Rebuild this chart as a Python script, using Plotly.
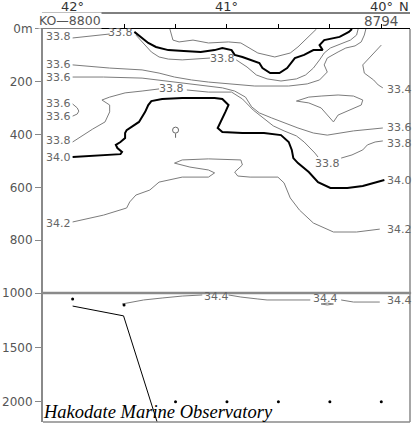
import plotly.graph_objects as go

# ---------------- data ----------------
station_lat = [42.0, 41.6667, 41.3333, 41.0, 40.6667, 40.3333, 40.0]
station_first = "KO—8800"
station_last = "8794"
lat_label_vals = [42, 41, 40]
lat_label_text = ["42°", "41°", "40°"]
upper_depth_ticks = [0, 200, 400, 600, 800]
upper_depth_text = ["0m", "200", "400", "600", "800"]
lower_depth_ticks = [1000, 1500, 2000]
lower_depth_text = ["1000", "1500", "2000"]

# isohalines (latitude, depth m); None = gap for a label
s338_a_lat = [42.00, 41.88, 41.76]
s338_a_dep = [34, 27, 19]

s340_top_lat = [41.60, 41.55, 41.51, 41.46, 41.38, 41.28, 41.17, 41.08, 41.03, 40.97, 40.95, 40.90, 40.85,
                40.79, 40.77, 40.72, 40.66, 40.61, 40.56, 40.50, 40.44, 40.38, 40.40, 40.37, 40.27, 40.21, 40.19]
s340_top_dep = [11, 34, 53, 68, 80, 83, 87, 80, 72, 80, 98, 106, 117,
                129, 148, 167, 167, 148, 110, 98, 80, 80, 61, 42, 30, 11, 0]

s342_top_lat = [41.37, 41.35, 41.31, 41.22, 41.12, 40.99, 40.91, 40.80, 40.69, 40.59, 40.54, 40.48, 40.44, 40.42]
s342_top_dep = [0, 42, 49, 42, 53, 49, 53, 91, 106, 91, 68, 34, 15, 0]

s338_b_lat = [41.59, 41.54, 41.49, 41.44, 41.38, 41.29, 41.19, 41.11, None,
              40.94, 40.87, 40.81, 40.74, 40.65, 40.55, 40.49, 40.44, 40.40, 40.37, 40.33, 40.26, 40.20, 40.16, 40.15]
s338_b_dep = [23, 57, 87, 106, 114, 117, 114, 110, None,
              117, 144, 174, 189, 197, 189, 174, 148, 117, 91, 72, 57, 42, 23, 0]

s336_a_lat = [42.00, 41.76, 41.55, 41.44, 41.34, 41.23, 41.12, 40.97, 40.82, 40.60, 40.48, 40.40,
              40.35, 40.37, 40.35, 40.28, 40.23, 40.17, 40.13, 40.11, 40.10]
s336_a_dep = [136, 148, 155, 167, 182, 193, 201, 208, 216, 216, 208, 193,
              163, 136, 110, 87, 72, 64, 49, 23, 0]

s334_lat = [40.00, 40.03, 40.07, 40.12, 40.11, 40.05, 40.02, 39.99]
s334_dep = [61, 80, 106, 136, 167, 193, 212, 223]

s336_b_lat = [42.00, 41.80, 41.55, 41.34, 41.12, 41.03, 40.95, 40.88, 40.84, 40.79, 40.71, 40.63,
              40.54, 40.44, 40.35, 40.18, 39.99]
s336_b_dep = [182, 182, 186, 201, 216, 223, 235, 258, 295, 318, 337, 356,
              375, 394, 402, 386, 375]

s336_loop_lat = [42.00, 41.97, 41.96, 41.97, 42.00]
s336_loop_dep = [284, 299, 311, 322, 330]

s338_c_lat = [42.00, 41.94, 41.87, 41.79, 41.76, 41.76, 41.81, 41.76, 41.66, 41.55, 41.44, None,
              41.26, 41.12, 40.97, 40.90, 40.83, 40.76, 40.70, 40.63, 40.55, 40.50, 40.46, 40.43, 40.41, None,
              40.26, 40.19, 40.12, 40.09, 40.04, 39.99]
s338_c_dep = [428, 405, 379, 352, 314, 288, 269, 258, 242, 235, 227, None,
              231, 239, 239, 265, 307, 341, 367, 386, 405, 428, 451, 470, 485, None,
              489, 477, 458, 439, 428, 424]

s334_lens_lat = [40.55, 40.47, 40.39, 40.28, 40.18, 40.12, 40.13, 40.20, 40.28, 40.31, 40.35, 40.39, 40.47, 40.55]
s334_lens_dep = [273, 258, 254, 250, 254, 269, 288, 307, 326, 352, 326, 299, 280, 273]

s340_deep_lat = [42.00, 41.76, 41.69, 41.68, 41.71, 41.72, 41.69, 41.66, 41.66, 41.65, 41.62, 41.57, 41.53,
                 41.51, 41.49, 41.42, 41.29, 41.17, 41.08, 41.03, 40.99, 41.01, 41.04, 41.06, 41.03, 40.90,
                 40.76, 40.65, 40.60, 40.58, 40.57, 40.54, 40.47, 40.41, 40.33, 40.22, 40.12, 40.01, 39.98]
s340_deep_dep = [485, 477, 474, 466, 451, 439, 428, 413, 394, 383, 371, 352, 314,
                 288, 273, 265, 261, 261, 261, 265, 288, 314, 352, 375, 390, 394,
                 394, 402, 428, 458, 489, 508, 542, 580, 602, 602, 595, 576, 572]

s342_lat = [42.00, 41.80, 41.65, 41.63, 41.59, 41.50, 41.44, 41.29, 41.12, 41.08, 41.12, 41.24, 41.34,
            41.29, 41.12, 40.91, 40.90, 40.95, 40.93, 40.85, 40.67, 40.63, 40.59, 40.53, 40.44, 40.31,
            40.16, 40.01]
s342_dep = [731, 705, 678, 655, 629, 610, 580, 561, 561, 545, 534, 523, 508,
            496, 492, 496, 515, 542, 557, 561, 561, 583, 640, 686, 735, 769,
            769, 758]

s344_lat = [41.68, 41.54, 41.42, 41.29, 41.16, None, 40.99, 40.91, 40.80, 40.74, 40.46, None,
            40.26, 40.18, 40.01]
s344_dep = [1101, 1064, 1046, 1028, 1018, None, 1018, 1037, 1055, 1064, 1064, None,
            1064, 1083, 1083]

s344_ring_lat = [40.39, 40.35, 40.31, 40.35, 40.39]
s344_ring_dep = [1101, 1093, 1101, 1110, 1101]

bottom_lat = [42.00, 41.67, 41.40]
bottom_dep = [1120, 1210, 2420]

deep_obs_lat = [42.0, 41.6667, 41.3333, 41.0, 40.6667, 40.3333, 40.0]
deep_obs_dep = [1055, 1110, 2000, 2000, 2000, 2000, 2000]

mark_lat = [41.333]
mark_dep = [383]
mark_stem_lat = [41.333, 41.333]
mark_stem_dep = [396, 412]

# contour labels
lab_text = ["33.8", "33.6", "33.6", "33.6", "33.6", "33.8", "34.0", "34.2",
            "33.4", "33.6", "33.8", "34.0", "34.2",
            "33.8", "33.8", "33.8", "33.8"]
lab_lat = [42.18] * 8 + [39.97] * 5 + [41.69, 41.03, 41.36, 40.35]
lab_dep = [30, 133, 182, 284, 330, 424, 485, 735,
           231, 375, 432, 572, 761,
           15, 110, 227, 508]
lab_anchor = ["left"] * 13 + ["center"] * 4

low_lab_text = ["34.4", "34.4", "34.4"]
low_lab_lat = [41.07, 40.36, 39.97]
low_lab_dep = [1028, 1055, 1073]
low_lab_anchor = ["center", "center", "left"]

# ---------------- figure ----------------
THIN = "#7c7c7c"
fig = go.Figure()

def add_line(lat, dep, thick=False, axis="y", color=None):
    fig.add_trace(go.Scatter(
        x=lat, y=dep, mode="lines", xaxis="x", yaxis=axis,
        line=dict(color=color or ("black" if thick else THIN), width=2 if thick else 1),
        hoverinfo="skip", showlegend=False, connectgaps=False))

add_line(s338_a_lat, s338_a_dep)
add_line(s342_top_lat, s342_top_dep)
add_line(s340_top_lat, s340_top_dep, thick=True)
add_line(s338_b_lat, s338_b_dep)
add_line(s336_a_lat, s336_a_dep)
add_line(s334_lat, s334_dep)
add_line(s336_b_lat, s336_b_dep)
add_line(s336_loop_lat, s336_loop_dep)
add_line(s338_c_lat, s338_c_dep)
add_line(s334_lens_lat, s334_lens_dep)
add_line(s340_deep_lat, s340_deep_dep, thick=True)
add_line(s342_lat, s342_dep)
add_line(mark_stem_lat, mark_stem_dep, color="#666")
add_line(s344_lat, s344_dep, axis="y2")
add_line(s344_ring_lat, s344_ring_dep, axis="y2")
add_line(bottom_lat, bottom_dep, axis="y2", color="black")

fig.add_trace(go.Scatter(x=deep_obs_lat, y=deep_obs_dep, mode="markers", xaxis="x", yaxis="y2",
                         marker=dict(color="black", size=3), hoverinfo="skip", showlegend=False))
fig.add_trace(go.Scatter(x=mark_lat, y=mark_dep, mode="markers", xaxis="x", yaxis="y",
                         marker=dict(symbol="circle-open", color="#666", size=6, line=dict(width=1)),
                         hoverinfo="skip", showlegend=False))

LAB_FONT = dict(family="DejaVu Sans", size=11, color="#666")
ann = []
for t, la, de, an in zip(lab_text, lab_lat, lab_dep, lab_anchor):
    ann.append(dict(x=la, y=de, xref="x", yref="y", text=t, showarrow=False,
                    xanchor=an, yanchor="middle", font=LAB_FONT, borderpad=0))
for t, la, de, an in zip(low_lab_text, low_lab_lat, low_lab_dep, low_lab_anchor):
    ann.append(dict(x=la, y=de, xref="x", yref="y2", text=t, showarrow=False,
                    xanchor=an, yanchor="middle", font=LAB_FONT, borderpad=0))

TOPFONT = dict(family="DejaVu Sans", size=13, color="#333")
for v, t in zip(lat_label_vals, lat_label_text):
    ann.append(dict(x=v, y=1.0147, xref="x", yref="paper", text=t, showarrow=False,
                    xanchor="center", yanchor="middle", font=TOPFONT, borderpad=0))
ann.append(dict(x=39.85, y=1.0147, xref="x", yref="paper", text="N", showarrow=False,
                xanchor="center", yanchor="middle", font=TOPFONT, borderpad=0))
ann.append(dict(x=0.073, y=0.981, xref="paper", yref="paper", text=station_first, showarrow=False,
                xanchor="center", yanchor="middle", font=dict(family="DejaVu Sans", size=12.5, color="#555"),
                bgcolor="white", borderpad=0))
ann.append(dict(x=station_lat[-1], y=0.981, xref="x", yref="paper", text=station_last, showarrow=False,
                xanchor="center", yanchor="middle", font=dict(family="DejaVu Sans", size=13.5, color="#555"),
                borderpad=0))
ann.append(dict(x=-0.006, y=0.025, xref="paper", yref="paper", text="<i>Hakodate Marine Observatory</i>",
                showarrow=False, xanchor="left", yanchor="middle",
                font=dict(family="Liberation Serif", size=18.5, color="black")))

SPLIT = 0.3154
TOP = 0.9609
shapes = [
    dict(type="line", xref="paper", yref="paper", x0=-0.003, x1=1.0, y0=1.0, y1=1.0,
         line=dict(color="black", width=1)),
    dict(type="line", xref="paper", yref="paper", x0=0, x1=1.003, y0=SPLIT, y1=SPLIT,
         line=dict(color="#8a8a8a", width=2.5)),
    dict(type="line", xref="paper", yref="paper", x0=1.0, x1=1.0, y0=0, y1=TOP,
         line=dict(color="#8a8a8a", width=1.5)),
    dict(type="line", xref="paper", yref="paper", x0=0, x1=1.0, y0=0.0, y1=0.0,
         line=dict(color="#8a8a8a", width=1.5)),
]

TICKFONT = dict(family="DejaVu Sans", size=12, color="#555")
fig.update_layout(
    width=412, height=424, margin=dict(l=39, r=2, t=13, b=2),
    paper_bgcolor="white", plot_bgcolor="white",
    showlegend=False, annotations=ann, shapes=shapes,
    xaxis=dict(range=[42.192, 39.814], anchor="y", side="top", showline=True, linecolor="black",
               linewidth=1, ticks="outside", tickvals=station_lat, ticklen=4, tickcolor="black",
               showticklabels=False, showgrid=False, zeroline=False),
    yaxis=dict(domain=[SPLIT, TOP], range=[1000, 0], anchor="x", tickvals=upper_depth_ticks,
               ticktext=upper_depth_text, ticks="outside", ticklen=6, tickcolor="#888",
               showline=True, linecolor="#8a8a8a", linewidth=2, showgrid=False, zeroline=False,
               tickfont=TICKFONT),
    yaxis2=dict(domain=[0, SPLIT], range=[2185, 1000], anchor="x", tickvals=lower_depth_ticks,
                ticktext=lower_depth_text, ticks="outside", ticklen=6, tickcolor="#888",
                showline=True, linecolor="#8a8a8a", linewidth=2, showgrid=False, zeroline=False,
                tickfont=TICKFONT),
)

fig.write_html("out.html", config={"displayModeBar": False, "staticPlot": True},
               post_script="document.body.style.margin='0';document.body.style.overflow='hidden';")
